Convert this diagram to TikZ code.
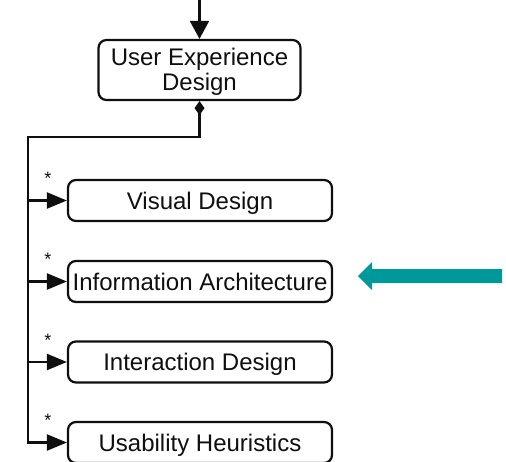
\documentclass[tikz,border=0pt]{standalone}
\usepackage{fontspec}
\setmainfont{Liberation Sans}
\usetikzlibrary{arrows.meta,calc}
\definecolor{inkdark}{RGB}{15,15,15}
\definecolor{pointerteal}{RGB}{0,153,153}
\begin{document}
\begin{tikzpicture}[x=1pt,y=-1pt,
  box/.style={draw=inkdark,line width=2.2pt,rounded corners=8pt,fill=white,
    text=inkdark,font=\fontsize{24}{25}\selectfont,
    inner sep=0pt,minimum width=264pt,minimum height=41pt,
    text height=17pt,text depth=0pt},
  wire/.style={draw=inkdark,line width=2.2pt},
  branch/.style={wire,-{Triangle[length=20pt,width=16pt]}},
  mult/.style={font=\fontsize{18}{18}\selectfont,text=inkdark,inner sep=0pt}]
\useasboundingbox (0,0) rectangle (506,461);
\clip (0,0) rectangle (506,461);

% parent box, its two-line caption set on fixed baselines
\node[box,minimum width=202pt,minimum height=60pt] (ued) at (199.5,70) {};
\node[inner sep=0pt,text=inkdark,font=\fontsize{24}{25}\selectfont,align=center,
  anchor=base] (uedtext) at (199.5,90) {User Experience\\Design};

% child boxes
\node[box] (visual) at (200,200.5) {Visual Design};
\node[box] (info)   at (200,281.5) {Information Architecture};
\node[box] (inter)  at (200,362)   {Interaction Design};
\node[box] (usab)   at (200,442.5) {Usability Heuristics};

% incoming arrow from above
\coordinate (src) at (199.5,0);
\draw[wire,-{Triangle[length=18pt,width=19pt]}] (src) -- (ued.north);

% composition bus with diamond at the parent
\coordinate (bend) at (28,137);
\draw[wire,{Diamond[length=14pt,width=10pt]}-{Triangle[length=20pt,width=16pt]}]
  (ued.south) |- (bend) |- (usab.west);
\draw[branch] (bend |- visual.west) -- (visual.west);
\draw[branch] (bend |- info.west) -- (info.west);
\draw[branch] (bend |- inter.west) -- (inter.west);

% multiplicities
\foreach \n in {visual,info,inter,usab}
  \node[mult] (m\n) at ($(\n.west)+(-19,-22)$) {*};

% highlight pointer
\coordinate (ptip) at (358,276);
\fill[pointerteal] (502,269) -- (372,269) -- (372,262) -- (ptip)
  -- (372,290) -- (372,283) -- (502,283) -- cycle;
\end{tikzpicture}
\end{document}
